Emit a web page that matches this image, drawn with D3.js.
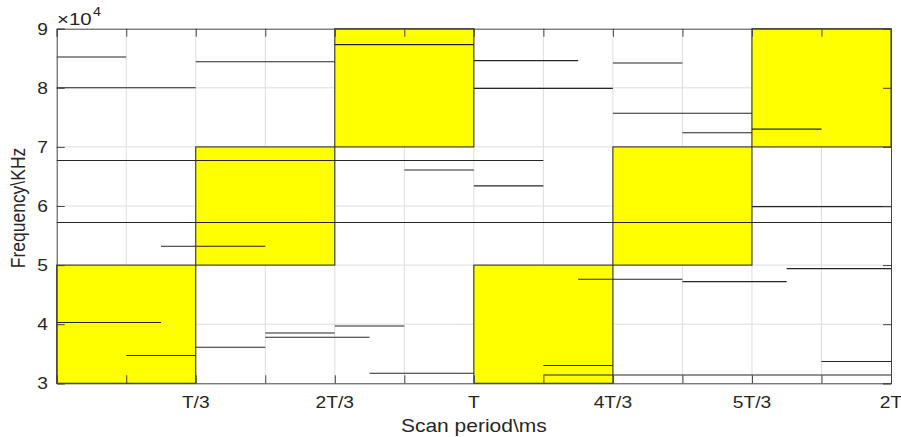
<!DOCTYPE html>
<html>
<head>
<meta charset="utf-8">
<script src="https://cdn.jsdelivr.net/npm/d3@7"></script>
<style>
  html, body { margin: 0; padding: 0; background: #fff; }
  svg { display: block; }
  text { font-family: "Liberation Sans", Arial, Helvetica, sans-serif; fill: #262626; }
</style>
</head>
<body>
<svg id="chart" width="901" height="437"></svg>
<script>
// ---- data (x in units of T/6, frequency values) ----
const xTickValues = [0, 1, 2, 3, 4, 5, 6, 7, 8, 9, 10, 11, 12];
const xTickLabels = ["", "", "T/3", "", "2T/3", "", "T", "", "4T/3", "", "5T/3", "", "2T"];
const yTickValues = [30000, 40000, 50000, 60000, 70000, 80000, 90000];
const yTickLabels = ["3", "4", "5", "6", "7", "8", "9"];

// yellow scan blocks
const bandStart = [0, 2, 4, 6, 8, 10];
const bandEnd   = [2, 4, 6, 8, 10, 12];
const bandLow   = [30000, 50000, 70000, 30000, 50000, 70000];
const bandHigh  = [50000, 70000, 90000, 50000, 70000, 90000];

// horizontal signal segments
const lineStart = [0, 0, 2, 0, 0, 1.5, 0, 1, 2, 3, 3, 4, 4.5, 4, 6, 6, 8, 8, 9, 10, 6, 5, 7.5, 9, 10.5, 10, 7, 7, 11];
const lineEnd   = [1, 2, 4, 7, 12, 3, 1.5, 2, 3, 4, 4.5, 5, 6, 6, 7.5, 8, 9, 10, 10, 11, 7, 6, 9, 10.5, 12, 12, 8, 12, 12];
const lineFreq  = [85200, 80000, 84400, 67700, 57200, 53200, 40300, 34700, 36100, 38500, 37800, 39700, 31700,
                   87300, 84600, 79900, 84200, 75700, 72400, 73000, 63400, 66100, 47600, 47200, 49400, 59900,
                   33000, 31400, 33700];

const xLabel = "Scan period\\ms";
const yLabel = "Frequency\\KHz";
const expBase = "×10";
const expPower = "4";

// ---- layout ----
const svg = d3.select("#chart");
const L = 56.7, R = 891, T = 28.7, B = 383.3;
const SX = 1.2; // horizontal text stretch

const x = d3.scaleLinear().domain([0, 12]).range([L, R]);
const y = d3.scaleLinear().domain([30000, 90000]).range([B, T]);

// grid
const grid = svg.append("g");
grid.selectAll("line.gx").data(xTickValues.slice(1, -1)).join("line")
  .attr("x1", d => x(d)).attr("x2", d => x(d)).attr("y1", T).attr("y2", B)
  .attr("stroke", "#dedede").attr("stroke-width", 1);
grid.selectAll("line.gy").data(yTickValues.slice(1, -1)).join("line")
  .attr("y1", d => y(d)).attr("y2", d => y(d)).attr("x1", L).attr("x2", R)
  .attr("stroke", "#dedede").attr("stroke-width", 1);

// bands
svg.append("g").selectAll("rect").data(bandStart.map((s, i) => i)).join("rect")
  .attr("x", i => x(bandStart[i]))
  .attr("y", i => y(bandHigh[i]))
  .attr("width", i => x(bandEnd[i]) - x(bandStart[i]))
  .attr("height", i => y(bandLow[i]) - y(bandHigh[i]))
  .attr("fill", "#ffff00").attr("stroke", "#333").attr("stroke-width", 1.1);

// segments
svg.append("g").selectAll("line").data(lineStart.map((s, i) => i)).join("line")
  .attr("x1", i => x(lineStart[i])).attr("x2", i => x(lineEnd[i]))
  .attr("y1", i => y(lineFreq[i])).attr("y2", i => y(lineFreq[i]))
  .attr("stroke", "#262626").attr("stroke-width", 1.1);

// axes (box with inward ticks on all sides)
const tickLen = 8;
const axisColor = "#444";
const axB = d3.axisBottom(x).tickValues(xTickValues).tickSize(-tickLen).tickFormat(() => "");
const axT = d3.axisTop(x).tickValues(xTickValues).tickSize(-tickLen).tickFormat(() => "");
const axL = d3.axisLeft(y).tickValues(yTickValues).tickSize(-tickLen).tickFormat(() => "");
const axR = d3.axisRight(y).tickValues(yTickValues).tickSize(-tickLen).tickFormat(() => "");
[[axB, `translate(0,${B})`], [axT, `translate(0,${T})`], [axL, `translate(${L},0)`], [axR, `translate(${R},0)`]]
  .forEach(([ax, tr]) => {
    const g = svg.append("g").attr("transform", tr).call(ax);
    g.select(".domain").attr("stroke", axisColor).attr("stroke-width", 1);
    g.selectAll(".tick line").attr("stroke", axisColor).attr("stroke-width", 1);
  });

// x tick labels
svg.append("g").selectAll("text").data(xTickValues.map((v, i) => i)).join("text")
  .attr("transform", i => `translate(${x(xTickValues[i])},408) scale(${SX},1)`)
  .attr("text-anchor", "middle").attr("font-size", 16).style("font-size", "16px")
  .text(i => xTickLabels[i]);

// y tick labels
svg.append("g").selectAll("text").data(yTickValues.map((v, i) => i)).join("text")
  .attr("transform", i => `translate(48,${y(yTickValues[i]) + 6}) scale(${SX},1)`)
  .attr("text-anchor", "end").attr("font-size", 16).style("font-size", "16px")
  .text(i => yTickLabels[i]);

// exponent (two separate text elements)
svg.append("text").attr("transform", `translate(57,25) scale(${SX},1)`)
  .attr("font-size", 17).style("font-size", "17px").text(expBase);
svg.append("text").attr("transform", `translate(93,16) scale(${SX},1)`)
  .attr("font-size", 12).style("font-size", "12px").text(expPower);

// axis labels
svg.append("text").attr("transform", `translate(${(L + R) / 2},432) scale(${SX},1)`)
  .attr("text-anchor", "middle").style("font-size", "17.5px").text(xLabel);
svg.append("text").attr("transform", `translate(25,${(T + B) / 2 + 2}) scale(${SX},1) rotate(-90)`)
  .attr("text-anchor", "middle").style("font-size", "17.5px").text(yLabel);
</script>
</body>
</html>
